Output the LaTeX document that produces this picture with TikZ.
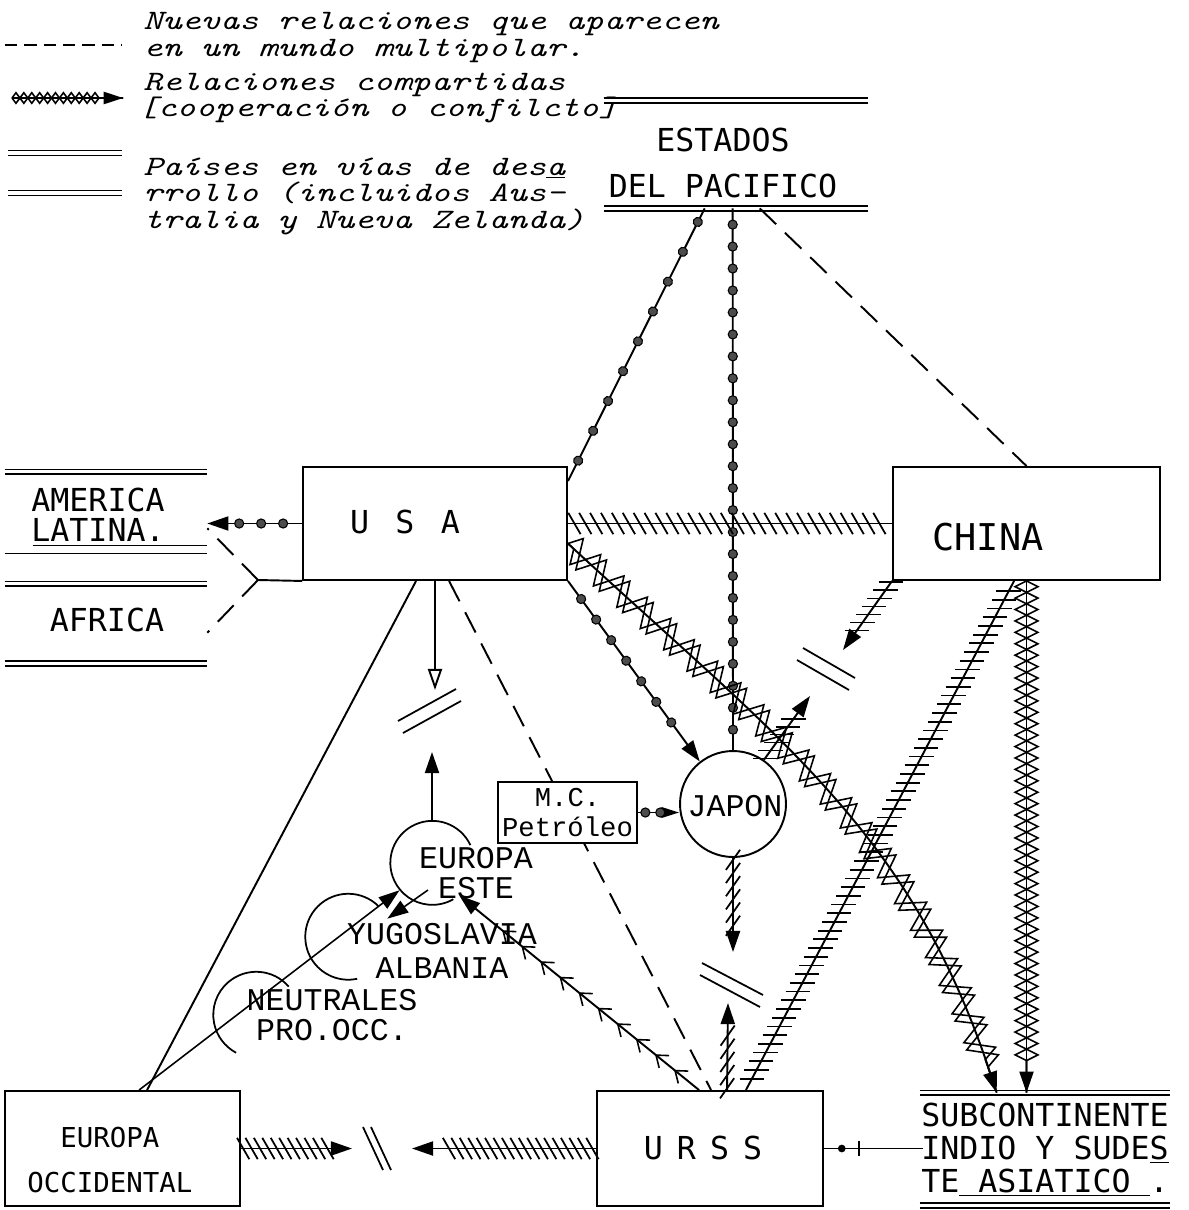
\documentclass[tikz,border=0pt]{standalone}
\usepackage{fontspec}
\newfontfamily\capsfont{DejaVu Sans Mono}
\newfontfamily\courfont{Liberation Mono}
\newfontfamily\legfont{Latin Modern Mono}[FakeStretch=1.3]
\usetikzlibrary{positioning, calc, arrows.meta, decorations.markings, decorations.pathmorphing}

\tikzset{
  box/.style={draw, line width=1.1pt, fill=white, inner sep=0pt},
  rel/.style={line width=1.1pt},
  newrel/.style={line width=1.1pt, dash pattern=on 13pt off 7pt},
  tip/.style={-{Triangle[length=12pt, width=8pt]}},
  dbl/.style={double, double distance=2pt, line width=0.8pt},
  capstxt/.style={font=\capsfont\fontsize{18}{#1}\selectfont, align=center, inner sep=0pt},
  courtxt/.style={font=\courfont\fontsize{18}{#1}\selectfont, align=center, inner sep=0pt},
  legtxt/.style={font=\legfont\itshape\fontsize{16}{20}\selectfont, anchor=base west, inner sep=0pt},
  beads/.style n args={3}{postaction={decorate, decoration={markings, mark=between positions #1 and #2 step #3 with {\draw[-, fill=black!70, line width=0.6pt] (0,0) circle (2.6pt);}}}},
  hatch/.style n args={3}{postaction={decorate, decoration={markings, mark=between positions 0.02 and #3 step #2 with {\pgftransformresetnontranslations \draw[-, line width=1pt] (#1+180:7pt) -- (#1:7pt);}}}},
  zz/.style n args={3}{postaction={draw, -, line width=0.9pt, decorate, decoration={zigzag, amplitude=#1, segment length=#2, pre length=#3, post length=12pt}}},
  chevrons/.style={postaction={decorate, decoration={markings, mark=between positions 0.1 and 0.85 step 14pt with {\draw[-, line width=0.9pt] (-6pt,4.5pt) -- (0,0) -- (-6pt,-4.5pt);}}}},
  slash/.style={line width=1pt}
}

\begin{document}
\begin{tikzpicture}[x=0.02cm, y=-0.02cm]
  \useasboundingbox (0,0) rectangle (1188,1210);

  % Legend
  \coordinate (lgdashA) at (5,45);
  \coordinate (lgdashB) at (122,45);
  \draw[line width=1pt, dash pattern=on 7pt off 4pt] (lgdashA) -- (lgdashB);
  \coordinate (lgzzA) at (12,98);
  \coordinate (lgzzB) at (123,98);
  \draw[line width=0.8pt, -{Triangle[length=11pt, width=7pt]}, zz={3pt}{9pt}{0pt}, zz={-3pt}{9pt}{0pt}] (lgzzA) -- (lgzzB);
  \draw[dbl] (8,153) -- (122,153);
  \draw[dbl] (8,193) -- (122,193);

  \node[legtxt] (legrow1) at (143,30) {Nuevas relaciones que aparecen};
  \node[legtxt] (legrow2) at (143,56) {en un mundo multipolar.};
  \node[legtxt] (legrow3) at (143,90) {Relaciones compartidas};
  \node[legtxt] (legrow4) at (138,116) {[cooperación o confilcto]};
  \node[legtxt] (legrow5) at (143,175) {Países en vías de des\underline{a}};
  \node[legtxt] (legrow6) at (143,201) {rrollo (incluidos Aus-};
  \node[legtxt] (legrow7) at (143,228) {tralia y Nueva Zelanda)};

  % Regions with double lines
  \node[minimum width=5.28cm, minimum height=2.14cm, inner sep=0pt] (estados) at (736,154.5) {};
  \node[capstxt=26.6pt] (estadostxt) at (723,163) {ESTADOS\\DEL PACIFICO};
  \draw[dbl] (estados.north west) -- (estados.north east);
  \draw[dbl] (estados.south west) -- (estados.south east);

  \node[minimum width=4.04cm, minimum height=1.54cm, inner sep=0pt] (amlat) at (106,510.5) {};
  \node[capstxt=17pt] (amlattxt) at (98,515) {AMERICA\\LATINA.};
  \draw[dbl] (amlat.north west) -- (amlat.north east);
  \draw[line width=0.9pt] ($(amlat.south west)+(28,-4)$) -- ($(amlat.south east)+(0,-4)$);
  \draw[line width=0.9pt] ($(amlat.south west)+(0,4)$) -- ($(amlat.south east)+(0,4)$);

  \node[minimum width=4.04cm, minimum height=1.58cm, inner sep=0pt] (africa) at (106,623.5) {};
  \node[capstxt=17pt] (africatxt) at (107,620) {AFRICA};
  \draw[dbl] (africa.north west) -- (africa.north east);
  \draw[dbl] (africa.south west) -- (africa.south east);

  \node[minimum width=5cm, minimum height=2.24cm, inner sep=0pt] (subcont) at (1045,1149) {};
  \node[capstxt=18.7pt, align=left] (subconttxt) at (1045,1150) {SUBCONTINENTE\\INDIO Y SUDE\underline{S}\\TE\underline{ ASIATICO }.};
  \draw[dbl] (subcont.north west) -- (subcont.north east);
  \draw[dbl] (subcont.south west) -- (subcont.south east);

  % Boxes
  \node[box, minimum width=5.28cm, minimum height=2.26cm] (usa) at (435,523.5) {};
  \node[capstxt=20pt] (usatxt) at (405,522) {U\hspace{15pt}S\hspace{15pt}A};
  \node[box, minimum width=5.34cm, minimum height=2.26cm] (china) at (1026.5,523.5) {};
  \node[font=\capsfont\fontsize{21}{21}\selectfont, inner sep=0pt] (chinatxt) at (988,537) {CHINA};
  \node[box, minimum width=4.52cm, minimum height=2.3cm] (urss) at (710,1148.5) {};
  \node[capstxt=20pt] (ursstxt) at (703,1148) {U\hspace{8pt}R\hspace{8pt}S\hspace{8pt}S};
  \node[box, minimum width=4.7cm, minimum height=2.3cm] (euocc) at (122.5,1148.5) {};
  \node[font=\capsfont\fontsize{15.6}{26}\selectfont, align=center, inner sep=0pt] (euocctxt) at (110,1160) {EUROPA\\OCCIDENTAL};

  % Circles
  \node[circle, draw, line width=1.1pt, fill=white, minimum size=2.12cm, inner sep=0pt] (japon) at (733,804) {};
  \node[courtxt=20pt] (japontxt) at (735,806) {JAPON};
  \node[circle, minimum size=1.68cm, inner sep=0pt] (eueste) at (432,863) {};
  \draw[line width=1pt] (eueste.25) arc[start angle=25, end angle=300, radius=0.84cm];
  \node[circle, minimum size=1.72cm, inner sep=0pt] (yugo) at (348,937) {};
  \draw[line width=1pt] (yugo.45) arc[start angle=45, end angle=282, radius=0.86cm];
  \node[circle, minimum size=1.72cm, inner sep=0pt] (neutral) at (256,1015) {};
  \draw[line width=1pt] (neutral.41) arc[start angle=41, end angle=242, radius=0.86cm];
  \node[courtxt=17pt] (euestetxt) at (476,873) {EUROPA\\ESTE};
  \node[courtxt=19pt] (yugotxt) at (442,951) {YUGOSLAVIA\\ALBANIA};
  \node[courtxt=17pt] (neutraltxt) at (332,1015) {NEUTRALES\\PRO.OCC.};

  % USA - URSS, behind the M.C. box
  \draw[newrel] ($(usa.south west)+(147,0)$) -- ($(urss.north west)+(115,0)$);
  \node[box, minimum width=2.78cm, minimum height=1.22cm, font=\courfont\fontsize{15.5}{17}\selectfont, align=center] (mcp) at (567.5,812.5) {M.C.\\Petróleo};

  % Estados del Pacifico
  \draw[rel, beads={0.05}{0.97}{19pt}] ($(estados.south west)+(101,0)$) -- ($(usa.north east)+(0,15)$);
  \draw[rel, beads={0.03}{0.99}{12.5pt}] ($(estados.south west)+(129,0)$) -- (japon.north);
  \draw[newrel] ($(estados.south west)+(156,0)$) -- (china.north);

  % USA
  \draw[rel, hatch={-60}{6.2pt}{0.99}] (usa.east) -- (china.west);
  \draw[rel, tip, zz={8pt}{18pt}{0pt}, zz={-8pt}{18pt}{4.5pt}] ($(usa.east)+(0,20)$) .. controls (780,740) and (910,830) .. ($(subcont.north west)+(77,0)$);
  \draw[rel, tip, beads={0.1}{0.85}{14.5pt}] (usa.south east) -- (japon.128);
  \draw[rel, tip, beads={0.2}{0.75}{12.5pt}] (usa.west) -- (usa.west -| amlat.east);
  \coordinate (fork) at (258,580);
  \draw[rel] (usa.south west) -- (fork);
  \draw[newrel] (fork) -- ($(amlat.south east)+(0,-21)$);
  \draw[newrel] (fork) -- ($(africa.north east)+(0,49)$);

  % USA / Europa Este
  \coordinate (usagap) at (435,690);
  \draw[rel, -{Triangle[open, length=12pt, width=8pt]}] (usa.south) -- (usagap);
  \draw[slash] (398,721) -- (456,689);
  \draw[slash] (403,733) -- (461,701);
  \coordinate (estegap) at (432,752);
  \draw[rel, tip] (eueste.north) -- (estegap);

  % China
  \draw[rel, tip, zz={6.5pt}{13pt}{0pt}, zz={-6.5pt}{13pt}{0pt}] (china.south) -- (china.south |- subcont.north);
  \coordinate (chinagap) at (843,650);
  \draw[rel, tip, hatch={0}{5.6pt}{0.8}] (china.south west) -- (chinagap);
  \draw[slash] (803,648) -- (855,678);
  \draw[slash] (797,660) -- (849,690);
  \coordinate (japongapA) at (810,696);
  \draw[rel, tip, hatch={0}{5.6pt}{0.75}] (japon.55) -- (japongapA);
  \draw[rel, hatch={0}{5.6pt}{0.99}] ($(china.south west)+(122,0)$) -- ($(urss.north east)+(-78,0)$);

  % Japon / URSS
  \coordinate (japongapB) at (733,952);
  \draw[rel, tip, hatch={55}{7.5pt}{0.78}] (japon.south) -- (japongapB);
  \draw[slash] (702,963) -- (763,995);
  \draw[slash] (700,975) -- (760,1007);
  \coordinate (ursgapA) at (728,1003);
  \draw[rel, tip, hatch={55}{7.5pt}{0.75}] ($(urss.north west)+(131,0)$) -- (ursgapA);
  \draw[rel, -{Triangle[length=10pt, width=6pt]}, beads={0.18}{0.6}{8.5pt}] (mcp.east) -- (mcp.east -| japon.west);

  % URSS
  \draw[rel, tip, chevrons] ($(urss.north west)+(103,0)$) -- (eueste.-50);
  \coordinate (ursgapB) at (412,1148.5);
  \draw[rel, tip, hatch={-60}{4.8pt}{0.8}] (urss.west) -- (ursgapB);
  \coordinate (ursgapC) at (923,1148.5);
  \draw[rel, postaction={decorate, decoration={markings,
      mark=at position 0.18 with {\fill (0,0) circle (2.2pt);},
      mark=at position 0.35 with {\draw[line width=1pt] (0,-4pt) -- (0,4pt);}}}]
    (urss.east) -- (ursgapC);

  % Europa Occidental
  \draw[rel] ($(euocc.north west)+(143,0)$) -- ($(usa.south west)+(114,0)$);
  \draw[line width=0.9pt, tip] ($(euocc.north west)+(135,0)$) -- (eueste.-140);
  \draw[line width=0.9pt, tip] ($(eueste.center)+(-4,27)$) -- (yugo.25);
  \coordinate (eogap) at (352,1148.5);
  \draw[rel, tip, hatch={-60}{4.8pt}{0.8}] (euocc.east) -- (eogap);
  \draw[slash] (363,1127) -- (383,1170);
  \draw[slash] (371,1127) -- (391,1170);
\end{tikzpicture}
\end{document}
